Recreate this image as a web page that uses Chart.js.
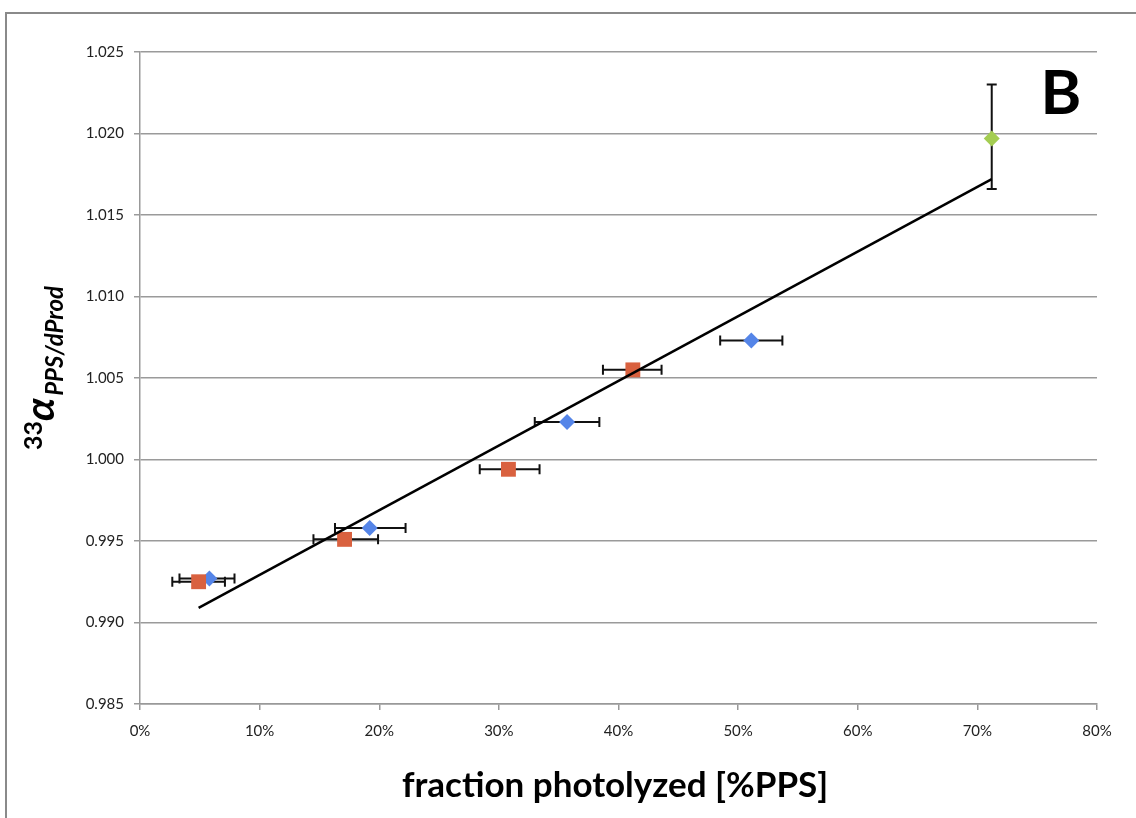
<!DOCTYPE html>
<html>
<head>
<meta charset="utf-8">
<script src="https://cdn.jsdelivr.net/npm/chart.js@4/dist/chart.umd.min.js"></script>
<style>
  html, body { margin: 0; padding: 0; background: #fff; }
  #wrap { width: 1136px; height: 818px; }
</style>
</head>
<body>
<div id="wrap"><canvas id="chart" width="1136" height="818"></canvas></div>
<script>
// fraction photolyzed (0-1) and 33-alpha values
const blueX   = [0.058, 0.192, 0.357, 0.511];
const blueY   = [0.9927, 0.9958, 1.0023, 1.0073];
const blueXLo = [0.033, 0.163, 0.330, 0.485];
const blueXHi = [0.079, 0.222, 0.384, 0.537];

const redX   = [0.049, 0.171, 0.308, 0.412];
const redY   = [0.9925, 0.9951, 0.9994, 1.0055];
const redXLo = [0.027, 0.145, 0.284, 0.387];
const redXHi = [0.071, 0.199, 0.334, 0.436];

const greenX   = [0.712];
const greenY   = [1.0197];
const greenYLo = [1.0166];
const greenYHi = [1.0230];

const fitX = [0.049, 0.712];
const fitY = [0.9909, 1.0172];

const yTicks = [0.985, 0.990, 0.995, 1.000, 1.005, 1.010, 1.015, 1.020, 1.025];
const xTicks = [0, 0.1, 0.2, 0.3, 0.4, 0.5, 0.6, 0.7, 0.8];

const FONT = 'Lato, "Open Sans", sans-serif';

const pts = (xs, ys) => xs.map((x, i) => ({ x: x, y: ys[i] }));

const errorBars = {
  id: 'errorBars',
  beforeDatasetsDraw(chart) {
    const ctx = chart.ctx, xs = chart.scales.x, ys = chart.scales.y;
    ctx.save();
    ctx.strokeStyle = '#111';
    ctx.lineWidth = 2;
    const cap = 5;
    const hbar = (lo, hi, y) => {
      const x1 = xs.getPixelForValue(lo), x2 = xs.getPixelForValue(hi), py = ys.getPixelForValue(y);
      ctx.beginPath();
      ctx.moveTo(x1, py); ctx.lineTo(x2, py);
      ctx.moveTo(x1, py - cap); ctx.lineTo(x1, py + cap);
      ctx.moveTo(x2, py - cap); ctx.lineTo(x2, py + cap);
      ctx.stroke();
    };
    blueX.forEach((x, i) => hbar(blueXLo[i], blueXHi[i], blueY[i]));
    redX.forEach((x, i) => hbar(redXLo[i], redXHi[i], redY[i]));
    greenX.forEach((x, i) => {
      const px = xs.getPixelForValue(x);
      const y1 = ys.getPixelForValue(greenYLo[i]), y2 = ys.getPixelForValue(greenYHi[i]);
      ctx.beginPath();
      ctx.moveTo(px, y1); ctx.lineTo(px, y2);
      ctx.moveTo(px - cap, y1); ctx.lineTo(px + cap, y1);
      ctx.moveTo(px - cap, y2); ctx.lineTo(px + cap, y2);
      ctx.stroke();
    });
    ctx.restore();
  },
  afterDraw(chart) {
    const ctx = chart.ctx;
    ctx.save();
    // outer frame
    ctx.strokeStyle = '#8a8a8a';
    ctx.lineWidth = 2;
    ctx.beginPath();
    ctx.moveTo(6, 818); ctx.lineTo(6, 13); ctx.lineTo(1136, 13);
    ctx.stroke();

    // panel letter
    ctx.fillStyle = '#000';
    ctx.font = 'bold 62px ' + FONT;
    ctx.textAlign = 'center';
    ctx.textBaseline = 'alphabetic';
    ctx.fillText('B', 1061, 114);

    // x title
    ctx.font = 'bold 35px ' + FONT;
    ctx.fillText('fraction photolyzed [%PPS]', 615, 797);

    // y title with super/subscript, rotated
    ctx.translate(54, 368);
    ctx.rotate(-Math.PI / 2);
    ctx.textAlign = 'left';
    const sup = '33', main = '\u03B1', sub = 'PPS/dProd';
    ctx.font = 'bold 25px ' + FONT;
    const wSup = ctx.measureText(sup).width;
    ctx.font = 'bold italic 41px ' + FONT;
    const wMain = ctx.measureText(main).width;
    ctx.font = 'bold italic 24px ' + FONT;
    const wSub = ctx.measureText(sub).width;
    let x0 = -(wSup + wMain + wSub + 2) / 2;
    ctx.font = 'bold 25px ' + FONT;
    ctx.fillText(sup, x0, -12);
    x0 += wSup;
    ctx.font = 'bold italic 41px ' + FONT;
    ctx.fillText(main, x0, 0);
    x0 += wMain + 2;
    ctx.font = 'bold italic 24px ' + FONT;
    ctx.fillText(sub, x0, 9);
    ctx.restore();
  }
};

const config = {
  type: 'scatter',
  data: {
    datasets: [
      {
        label: 'fit',
        data: pts(fitX, fitY),
        showLine: true,
        borderColor: '#000',
        borderWidth: 2.5,
        pointRadius: 0,
        fill: false
      },
      {
        label: 'green',
        data: pts(greenX, greenY),
        pointStyle: 'rectRot',
        pointRadius: 8,
        backgroundColor: '#a4cd52',
        borderColor: '#a4cd52',
        borderWidth: 0
      },
      {
        label: 'red',
        data: pts(redX, redY),
        pointStyle: 'rect',
        pointRadius: 10.5,
        backgroundColor: '#d9613f',
        borderColor: '#d9613f',
        borderWidth: 0
      },
      {
        label: 'blue',
        data: pts(blueX, blueY),
        pointStyle: 'rectRot',
        pointRadius: 8,
        backgroundColor: '#5585e8',
        borderColor: '#5585e8',
        borderWidth: 0
      }
    ]
  },
  options: {
    responsive: false,
    animation: false,
    layout: { padding: { left: 0, right: 39, top: 52, bottom: 0 } },
    plugins: {
      legend: { display: false },
      tooltip: { enabled: false }
    },
    scales: {
      x: {
        type: 'linear',
        min: 0,
        max: 0.8,
        afterFit: s => { s.height = 114; },
        afterBuildTicks: s => { s.ticks = xTicks.map(v => ({ value: v })); },
        ticks: {
          callback: v => Math.round(v * 100) + '%',
          color: '#222',
          font: { family: FONT, size: 15 },
          padding: 12,
          maxRotation: 0
        },
        grid: { drawOnChartArea: false, drawTicks: true, tickLength: 6, color: '#999', lineWidth: 1.5 },
        border: { display: true, color: '#999', width: 1.5 }
      },
      y: {
        type: 'linear',
        min: 0.985,
        max: 1.025,
        afterFit: s => { s.width = 140; },
        afterBuildTicks: s => { s.ticks = yTicks.map(v => ({ value: v })); },
        ticks: {
          callback: v => v.toFixed(3),
          color: '#222',
          font: { family: FONT, size: 15 },
          padding: 10
        },
        grid: { color: '#9a9a9a', lineWidth: 1.5, tickLength: 6 },
        border: { display: true, color: '#999', width: 1.5 }
      }
    }
  },
  plugins: [errorBars]
};

var chart = new Chart(document.getElementById('chart'), config);
</script>
</body>
</html>
